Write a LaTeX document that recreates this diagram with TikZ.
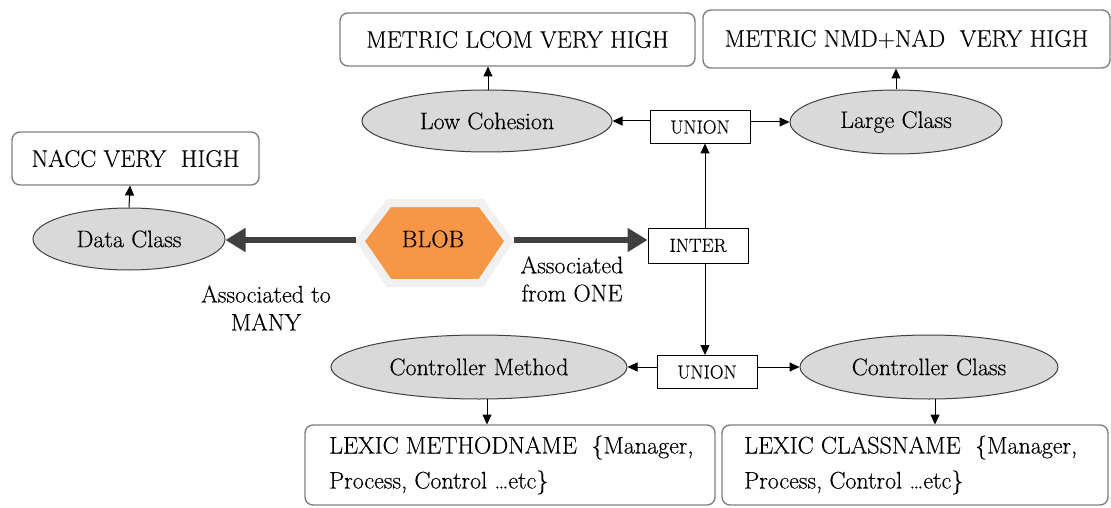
\documentclass[tikz,border=0pt]{standalone}
\usepackage{fontspec}
\newfontfamily\tnr[FakeBold=0.35]{Latin Modern Roman}
\usetikzlibrary{arrows.meta,shapes.geometric}
\definecolor{blobfill}{HTML}{F79646}
\definecolor{ellfill}{HTML}{D9D9D9}
\definecolor{thickarr}{HTML}{404040}
\definecolor{boxline}{HTML}{808080}
\tikzset{
  bigfont/.style={font=\tnr\fontsize{24}{28}\selectfont},
  rbox/.style={draw=boxline, line width=1.4pt, rounded corners=8pt, fill=white, bigfont},
  ell/.style={ellipse, draw=thickarr, line width=1pt, fill=ellfill, inner sep=0pt, bigfont},
  opbox/.style={draw=black, line width=1pt, fill=white, minimum width=100pt, minimum height=33pt, inner sep=0pt, font=\tnr\fontsize{19}{22}\selectfont},
  arr/.style={-{Triangle[length=10pt,width=9pt]}, line width=1pt, black},
  thick arr/.style={-{Triangle[length=20pt,width=23pt]}, line width=6pt, thickarr},
  lbl/.style={align=center, bigfont, inner sep=0pt}
}
\begin{document}
\begin{tikzpicture}[x=1pt,y=-1pt]
\useasboundingbox (0,0) rectangle (1111,508);
% top boxes
\node[rbox, minimum width=355pt, minimum height=53pt] (lcom) at (517.5,39.5) {METRIC LCOM VERY HIGH};
\node[rbox, minimum width=407pt, minimum height=58pt] (nmd) at (906.5,39) {METRIC NMD+NAD\ \ VERY HIGH};
\node[rbox, minimum width=247pt, minimum height=53pt] (nacc) at (135.5,158.5) {NACC VERY\ \ HIGH};
% ellipses
\node[ell, minimum width=250pt, minimum height=62pt] (lowc) at (487,121) {Low Cohesion};
\node[ell, minimum width=212pt, minimum height=64pt] (large) at (896,122) {Large Class};
\node[ell, minimum width=192pt, minimum height=62pt] (data) at (129,239) {Data Class};
\node[ell, minimum width=296pt, minimum height=64pt] (cmeth) at (479,367) {Controller Method};
\node[ell, minimum width=258pt, minimum height=64pt] (cclass) at (929,367) {Controller Class};
% operator boxes
\node[opbox] (u1) at (700,127) {UNION};
\node[opbox, minimum height=35pt] (inter) at (698,245.5) {INTER};
\node[opbox] (u2) at (707,372) {UNION};
% blob
\draw[line width=8pt, draw=gray!12, fill=blobfill, line join=miter]
  (360,241) -- (389,203) -- (481,203) -- (509,241) -- (481,283) -- (389,283) -- cycle;
\node[bigfont] (blob) at (433,239) {BLOB};
\coordinate (blobL) at (356,240);
\coordinate (blobR) at (514,240);
% bottom boxes
\node[rbox, minimum width=410pt, minimum height=80pt] (lexm) at (510,465) {};
\node[lbl, anchor=west, align=left, font=\tnr\fontsize{24}{35}\selectfont] (lexmt) at (329,465) {LEXIC METHODNAME\ \ \{Manager,\\Process, Control \dots etc\}};
\node[rbox, minimum width=386pt, minimum height=80pt] (lexc) at (915,465) {};
\node[lbl, anchor=west, align=left, font=\tnr\fontsize{24}{35}\selectfont] (lexct) at (744,465) {LEXIC CLASSNAME\ \ \{Manager,\\Process, Control \dots etc\}};
% labels
\node[lbl] (l1) at (266,308) {Associated to\\MANY};
\node[lbl] (l2) at (572,279) {Associated\\from ONE};
% thick arrows
\draw[thick arr] (blobL) -- (blobL -| data.east);
\draw[thick arr] (blobR) -- (blobR -| inter.west);
% thin arrows
\draw[arr] (488,90) -- (488,66.5);
\draw[arr] (large.north) -- (896,68.5);
\draw[arr] (data.north) -- (130,185.5);
\draw[arr] (u1.west |- lowc.east) -- (lowc.east);
\draw[arr] (u1.east |- large.west) -- (large.west);
\draw[arr] (705,228) -- (705,143.5);
\draw[arr] (705,263) -- (705,355);
\draw[arr] (u2.west |- cmeth.east) -- (cmeth.east);
\draw[arr] (u2.east |- cclass.west) -- (cclass.west);
\draw[arr] (487,399) -- (487,424.5);
\draw[arr] (935,399) -- (935,424.5);
\end{tikzpicture}
\end{document}
